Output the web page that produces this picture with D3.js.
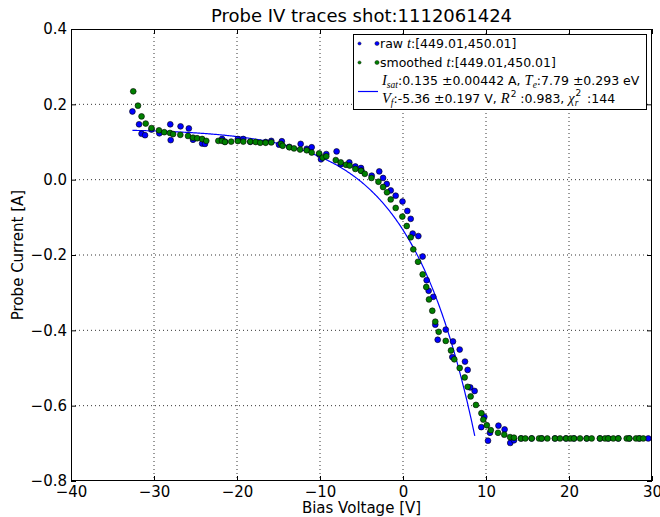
<!DOCTYPE html>
<html>
<head>
<meta charset="utf-8">
<script src="https://cdn.jsdelivr.net/npm/d3@7"></script>
<style>
  body { margin: 0; background: #fff; }
  text { font-family: "DejaVu Sans", sans-serif; fill: #000; }
  .math { font-family: "Liberation Serif", "DejaVu Serif", serif; font-style: italic; }
</style>
</head>
<body>
<svg id="chart" width="660" height="517"></svg>
<script>
// Raw probe samples (bias voltage [V], current [A])
const rawV = [-32.6, -31.8, -31.5, -31.08, -30.3, -29.36, -28.04, -27.99, -26.8, -25.8, -25.3, -24.2,
  -23.86, -21.8, -21.45, -19.9, -19.24, -18.4, -16.55, -15.87, -14.94, -14.6, -13.7, -12.33, -11.6,
  -11.0, -10.1, -9.88, -9.24, -8.0, -7.5, -6.47, -5.74, -5.06, -5.0, -3.77, -2.86, -2.4, -1.96, -1.48,
  -0.88, -0.06, 0.52, 0.93, 1.17, 1.85, 2.37, 2.85, 3.09, 3.65, 3.89, 4.18, 5.15, 5.94, 6.02, 6.83,
  7.47, 7.79, 8.1, 8.63, 9.43, 9.8, 10.24, 10.48, 11.5, 12.24, 12.92, 13.37, 14.22, 15.5, 16.71,
  18.31, 19.64, 20.6, 22.13, 23.73, 24.73, 25.94, 27.27, 28.47, 29.55];
const rawI = [0.181, 0.147, 0.122, 0.118, 0.133, 0.123, 0.147, 0.105, 0.1415, 0.136, 0.106, 0.096,
  0.095, 0.108, 0.101, 0.108, 0.108, 0.1005, 0.1, 0.103, 0.093, 0.102, 0.087, 0.095, 0.082,
  0.086, 0.067, 0.054, 0.068, 0.075, 0.041, 0.046, 0.035, 0.031, 0.024, 0.0106, 0.022, 0.0045, -0.0115, -0.0285,
  -0.0425, -0.058, -0.083, -0.104, -0.143, -0.1497, -0.204, -0.267, -0.295, -0.311, -0.385, -0.425, -0.398, -0.471, -0.4295, -0.451,
  -0.483, -0.505, -0.5515, -0.561, -0.657, -0.6295, -0.693, -0.672, -0.653, -0.663, -0.699, -0.692, -0.687, -0.687, -0.687,
  -0.687, -0.687, -0.687, -0.687, -0.687, -0.687, -0.687, -0.687, -0.687, -0.687];

// Smoothed samples
const smoothV = [-32.5, -31.93, -31.5, -31.0, -30.3, -29.4, -28.76, -28.07, -27.7, -26.83, -25.9, -25.3,
  -24.8, -24.2, -23.7, -22.25, -21.8, -21.45, -20.7, -19.9, -19.24, -18.4, -17.75, -17.2, -16.55, -15.87,
  -14.7, -14.5, -13.7, -13.13, -12.4, -11.6, -11.0, -10.1, -9.67, -9.24, -8.1, -7.5, -6.87, -6.43, -5.74,
  -5.06, -4.6, -3.8, -2.96, -2.4, -1.93, -1.48, -0.88, -0.08, 0.45, 0.93, 1.24, 1.81, 2.37, 2.8, 3.13,
  3.53, 3.89, 4.3, 5.15, 5.78, 6.18, 6.83, 7.43, 7.79, 8.15, 8.79, 9.45, 9.67, 10.1, 10.58, 11.45, 12.2,
  12.9, 13.37, 14.22, 14.74, 15.5, 16.39, 16.71, 17.39, 18.31, 18.92, 19.64, 20.2, 20.6, 21.33, 22.13,
  22.73, 23.73, 24.34, 24.73, 25.34, 25.94, 26.95, 27.27, 28.07, 28.47, 28.95];
const smoothI = [0.2345, 0.1965, 0.168, 0.149, 0.137, 0.131, 0.126, 0.124, 0.121, 0.119, 0.116, 0.1115,
  0.11, 0.108, 0.103, 0.103, 0.103, 0.1, 0.101, 0.1025, 0.101, 0.101, 0.1, 0.098, 0.098, 0.099,
  0.095, 0.09, 0.086, 0.083, 0.08, 0.078, 0.072, 0.070, 0.0585, 0.062, 0.052, 0.046, 0.0395, 0.0375, 0.0285,
  0.0235, 0.0155, 0.0045, -0.0055, -0.0195, -0.0335, -0.0525, -0.075, -0.098, -0.123, -0.153, -0.185, -0.218, -0.2515, -0.285, -0.318,
  -0.348, -0.377, -0.404, -0.428, -0.4535, -0.477, -0.5, -0.525, -0.55, -0.5755, -0.598, -0.62, -0.637, -0.652, -0.665, -0.672, -0.677,
  -0.6835, -0.685, -0.687, -0.687, -0.687, -0.687, -0.687, -0.687, -0.687, -0.687, -0.687, -0.687, -0.687, -0.687, -0.687,
  -0.687, -0.687, -0.687, -0.687, -0.687, -0.687, -0.687, -0.687, -0.687, -0.687, -0.687];

// Exponential probe fit parameters (shown in the legend)
const fitIsat = 0.135, fitIsatErr = 0.00442;
const fitTe = 7.79, fitTeErr = 0.293;
const fitVf = -5.36, fitVfErr = 0.197;
const fitR2 = 0.983, fitChi2 = 144;
const fitRange = [-32.6, 8.65];

const xTicks = [-40, -30, -20, -10, 0, 10, 20, 30];
const yTicks = [0.4, 0.2, 0.0, -0.2, -0.4, -0.6, -0.8];

const svg = d3.select("#chart");
const L = 71, R = 652, T = 29, B = 481;

const x = d3.scaleLinear().domain([-40, 30]).range([L, R]);
const y = d3.scaleLinear().domain([-0.8, 0.4]).range([B, T]);

// dotted grid
const grid = svg.append("g").attr("stroke", "#000").attr("stroke-width", 0.8)
  .attr("stroke-dasharray", "1,3");
grid.selectAll("line.gx").data(xTicks.slice(1, -1)).join("line")
  .attr("x1", d => x(d)).attr("x2", d => x(d)).attr("y1", T).attr("y2", B);
grid.selectAll("line.gy").data(yTicks.slice(1, -1)).join("line")
  .attr("y1", d => y(d)).attr("y2", d => y(d)).attr("x1", L).attr("x2", R);

// axes with inward ticks
const fmtX = d3.format("d"), fmtY = d3.format(".1f");
const axB = svg.append("g").attr("transform", `translate(0,${B})`)
  .call(d3.axisBottom(x).tickValues(xTicks).tickFormat(fmtX).tickSize(-5).tickPadding(5));
const axL = svg.append("g").attr("transform", `translate(${L},0)`)
  .call(d3.axisLeft(y).tickValues(yTicks).tickFormat(fmtY).tickSize(-5).tickPadding(4));
const axT = svg.append("g").attr("transform", `translate(0,${T})`)
  .call(d3.axisTop(x).tickValues(xTicks).tickFormat("").tickSize(-5));
const axR = svg.append("g").attr("transform", `translate(${R},0)`)
  .call(d3.axisRight(y).tickValues(yTicks).tickFormat("").tickSize(-5));
[axB, axL, axT, axR].forEach(g => {
  g.select(".domain").remove();
  g.selectAll("text").style("font-size", "15px").style("font-family", "'DejaVu Sans', sans-serif");
  g.selectAll("line").attr("stroke", "#000");
});

// fitted curve I = Isat (1 - exp((V - Vf)/Te))
const fitV = d3.range(fitRange[0], fitRange[1], 0.1).concat([fitRange[1]]);
const fitLine = d3.line()
  .x(v => x(v))
  .y(v => y(fitIsat * (1 - Math.exp((v - fitVf) / fitTe))));

svg.append("clipPath").attr("id", "plotclip")
  .append("rect").attr("x", L).attr("y", T).attr("width", R - L).attr("height", B - T);
const plot = svg.append("g").attr("clip-path", "url(#plotclip)");

plot.append("path").datum(fitV).attr("d", fitLine)
  .attr("fill", "none").attr("stroke", "#0000ff").attr("stroke-width", 1.2);

plot.selectAll("circle.raw").data(d3.range(rawV.length)).join("circle")
  .attr("class", "raw")
  .attr("cx", i => x(rawV[i])).attr("cy", i => y(rawI[i])).attr("r", 2.9)
  .attr("fill", "#0000ff").attr("stroke", "#000").attr("stroke-width", 0.6);
plot.selectAll("circle.smooth").data(d3.range(smoothV.length)).join("circle")
  .attr("class", "smooth")
  .attr("cx", i => x(smoothV[i])).attr("cy", i => y(smoothI[i])).attr("r", 2.9)
  .attr("fill", "#008000").attr("stroke", "#000").attr("stroke-width", 0.6);

// frame
svg.append("rect").attr("x", L + 0.5).attr("y", T + 0.5).attr("width", R - L - 1).attr("height", B - T - 1)
  .attr("fill", "none").attr("stroke", "#000").attr("stroke-width", 1);

// titles
svg.append("text").attr("x", (L + R) / 2).attr("y", 22).attr("text-anchor", "middle")
  .style("font-size", "18px").text("Probe IV traces shot:1112061424");
svg.append("text").attr("x", (L + R) / 2).attr("y", 513).attr("text-anchor", "middle")
  .style("font-size", "15px").text("Bias Voltage [V]");
svg.append("text").attr("transform", `translate(23,${(T + B) / 2}) rotate(-90)`)
  .attr("text-anchor", "middle").style("font-size", "15px").text("Probe Current [A]");

// legend
const lg = svg.append("g");
lg.append("rect").attr("x", 353.5).attr("y", 34.5).attr("width", 293).attr("height", 75)
  .attr("fill", "#fff").attr("stroke", "#000").attr("stroke-width", 1);

const legendDots = [["#0000ff", 43.5], ["#008000", 62.5]];
legendDots.forEach(([c, yy]) => {
  lg.append("circle").attr("cx", 359.5).attr("cy", yy).attr("r", 1.6).attr("fill", c)
    .attr("stroke", "#000").attr("stroke-width", 0.4);
  lg.append("circle").attr("cx", 377).attr("cy", yy).attr("r", 2.1).attr("fill", c)
    .attr("stroke", "#000").attr("stroke-width", 0.4);
});
lg.append("line").attr("x1", 358).attr("x2", 378).attr("y1", 91.5).attr("y2", 91.5)
  .attr("stroke", "#0000ff").attr("stroke-width", 1.2);

const fs = 12.5, mfs = 14.5, subfs = 9.5;
function span(t, s, cls) {
  const sp = t.append("tspan").text(s);
  if (cls) sp.attr("class", cls);
  return sp;
}
// raw entry
const t1 = lg.append("text").attr("x", 380).attr("y", 48).style("font-size", fs + "px");
span(t1, "raw ");
span(t1, "t", "math").style("font-size", mfs + "px");
span(t1, ":[449.01,450.01]");

const t2 = lg.append("text").attr("x", 380).attr("y", 67).style("font-size", fs + "px");
span(t2, "smoothed ");
span(t2, "t", "math").style("font-size", mfs + "px");
span(t2, ":[449.01,450.01]");

// fit entry, line 1
const t3 = lg.append("text").attr("x", 382).attr("y", 85).style("font-size", fs + "px");
span(t3, "I", "math").style("font-size", mfs + "px");
span(t3, "sat", "math").attr("dy", 3).style("font-size", subfs + "px");
span(t3, `:${fitIsat} `).attr("dy", -3);
span(t3, `±${fitIsatErr} A, `);
span(t3, "T", "math").style("font-size", mfs + "px");
span(t3, "e", "math").attr("dy", 3).style("font-size", subfs + "px");
span(t3, `:${fitTe} `).attr("dy", -3);
span(t3, `±${fitTeErr} eV`);

// fit entry, line 2
const t4 = lg.append("text").attr("x", 382).attr("y", 103).style("font-size", fs + "px");
span(t4, "V", "math").style("font-size", mfs + "px");
span(t4, "f", "math").attr("dy", 3).style("font-size", subfs + "px");
span(t4, `:${fitVf} `).attr("dy", -3);
span(t4, `±${fitVfErr} V, `);
span(t4, "R", "math").style("font-size", mfs + "px");
span(t4, "2").attr("dx", 1).attr("dy", -6).style("font-size", "9px");
span(t4, ` :${fitR2}, `).attr("dy", 6);
span(t4, "χ", "math").style("font-size", mfs + "px");
span(t4, "r", "math").attr("dy", 3).style("font-size", subfs + "px");
span(t4, "2").attr("dx", -3).attr("dy", -10).style("font-size", "9px");
span(t4, ` :${fitChi2}`).attr("dx", 2).attr("dy", 7);
</script>
</body>
</html>
